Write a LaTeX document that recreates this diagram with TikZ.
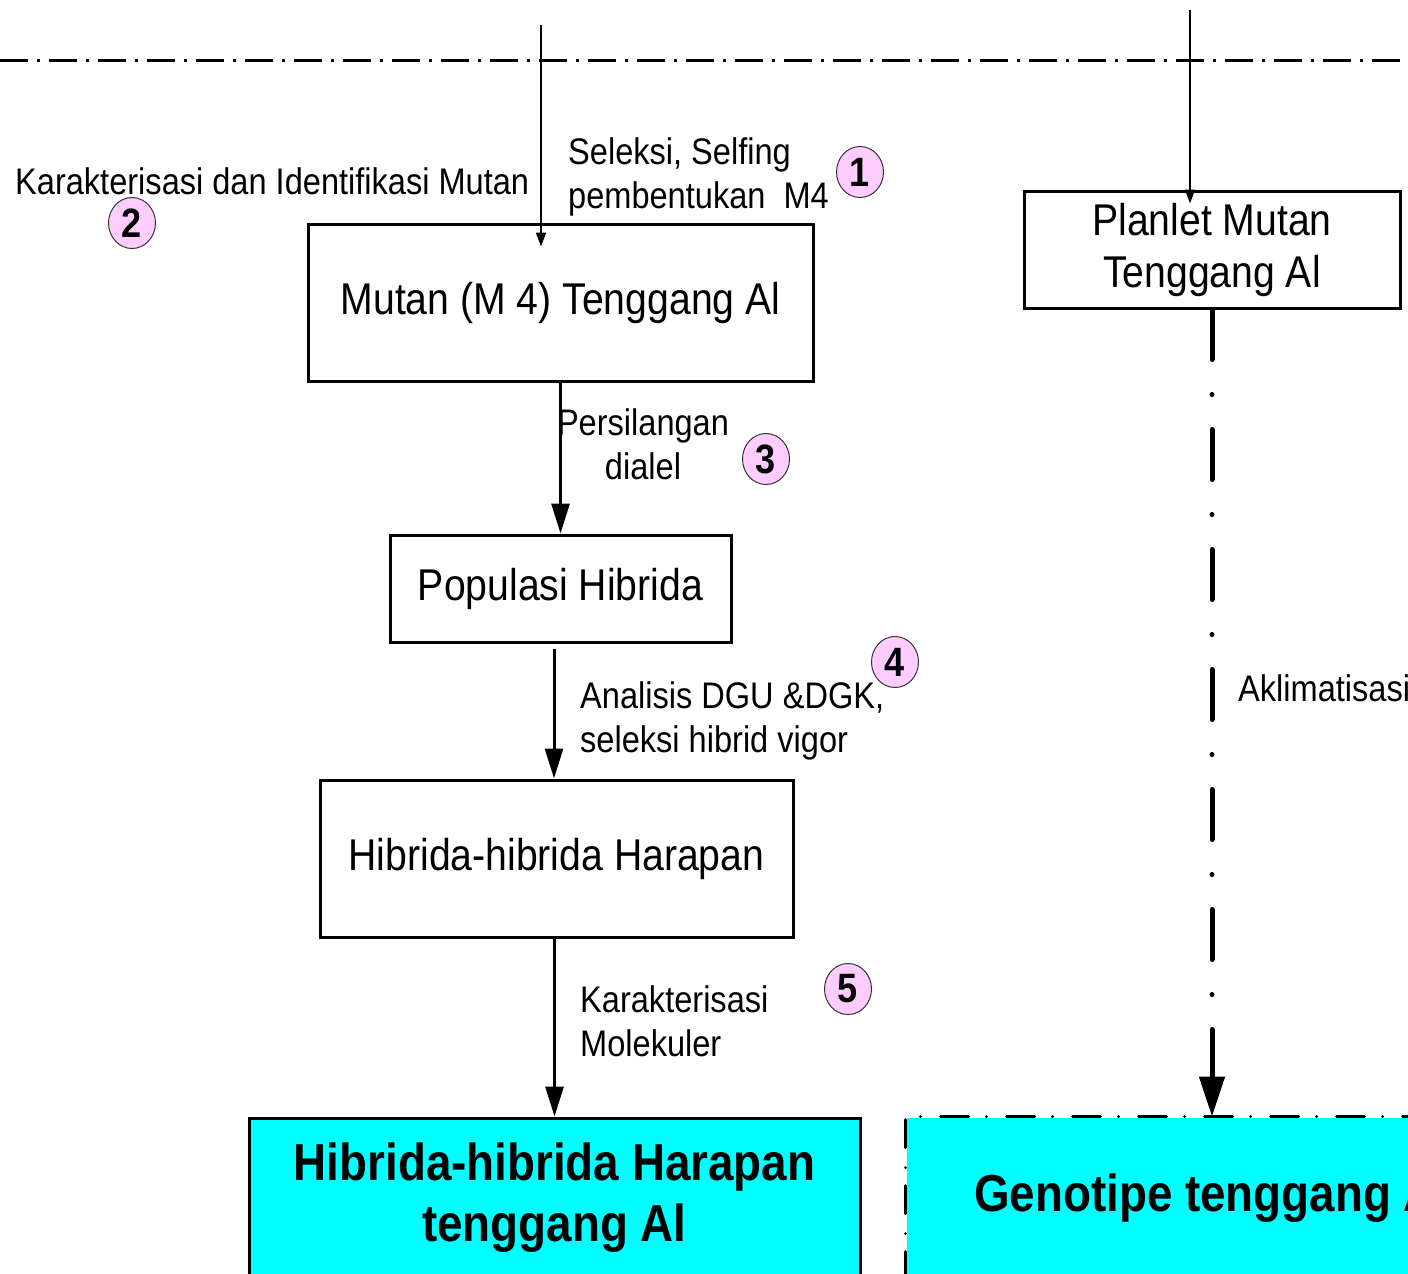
\documentclass[tikz,border=0pt]{standalone}
\usepackage{fontspec}
\setmainfont[FakeStretch=0.88]{Liberation Sans}
\usetikzlibrary{arrows.meta,shapes.geometric}
\definecolor{pinkc}{HTML}{FFCCFF}
\definecolor{cyanc}{HTML}{00FFFF}
\tikzset{
  box/.style={draw=black, line width=3pt, inner sep=0pt, align=center,
    font=\fontsize{44.5}{52}\selectfont},
  resbox/.style={box, fill=cyanc, font=\fontsize{52}{61}\selectfont\bfseries},
  lbl/.style={inner sep=0pt, font=\fontsize{37}{44}\selectfont},
  num/.style={ellipse, draw=black!80, line width=1pt, fill=pinkc, inner sep=0pt,
    minimum width=47pt, minimum height=51pt, font=\fontsize{41}{44}\selectfont\bfseries},
  thinarr/.style={line width=1.8pt, -{Triangle[width=10pt,length=14pt]}},
  thickarr/.style={line width=3pt, -{Triangle[width=18pt,length=30pt]}},
  dashdotA/.style={line width=3pt, dash pattern=on 28pt off 9pt on 3pt off 9pt},
  dashdotB/.style={line width=5pt, line cap=round, dash pattern=on 50pt off 35pt on 0pt off 35pt},
  dashdotC/.style={line width=3pt, line cap=round, dash pattern=on 28pt off 18pt on 0pt off 20pt},
}
\begin{document}
\begin{tikzpicture}[x=1pt,y=-1pt]
\useasboundingbox (0,0) rectangle (1408,1274);
\clip (0,0) rectangle (1408,1274);
% top separator
\coordinate (sepL) at (0,60);
\coordinate (sepR) at (1408,60);
\draw[dashdotA] (sepL) -- (sepR);
% boxes
\node[box, minimum width=505pt, minimum height=157pt] (b1) at (560.5,302.5) {Mutan (M 4) Tenggang Al};
\node[box, minimum width=341pt, minimum height=107pt] (b2) at (560.5,588.5) {Populasi Hibrida};
\node[box, minimum width=473pt, minimum height=157pt] (b3) at (556.5,858.5) {Hibrida-hibrida Harapan};
\node[resbox, minimum width=611pt, minimum height=160pt] (b4) at (554.5,1198) {Hibrida-hibrida Harapan\\tenggang Al};
\node[box, minimum width=376pt, minimum height=117pt] (b6) at (1212,249.5) {Planlet Mutan\\Tenggang Al};
\node[resbox, draw=none, minimum width=610pt, minimum height=160pt] (b5) at (1212,1198) {Genotipe tenggang Al};
\draw[dashdotC] (b5.south west) -- (b5.north west) -- (b5.north east);
% connectors
\coordinate (t1) at (541,25);
\draw[thinarr] (t1) -- ([yshift=-24pt]t1 |- b1.north);
\coordinate (t2) at (1190,10);
\draw[thinarr] (t2) -- ([yshift=-14pt]t2 |- b6.north);
\draw[thickarr] (b1.south) -- (b2.north);
\draw[thickarr] ([xshift=-6.5pt,yshift=-5pt]b2.south) -- ([xshift=-6.5pt]b2.south |- b3.north);
\draw[thickarr] (b3.south -| b4.north) -- (b4.north);
\draw[dashdotB, -{Triangle[width=25pt,length=40pt]}] (b6.south) -- (b5.north);
% labels
\node[lbl, anchor=west, align=left] (l1) at (568,177) {Seleksi, Selfing\\pembentukan\ \ M4};
\node[lbl, anchor=west] (l2) at (15,181) {Karakterisasi dan Identifikasi Mutan};
\node[lbl, align=center] (l3) at (643,444) {Persilangan\\dialel};
\node[lbl, anchor=west, align=left] (l4) at (580,721) {Analisis DGU \&DGK,\\seleksi hibrid vigor};
\node[lbl, anchor=west, align=left] (l5) at (580,1021) {Karakterisasi\\Molekuler};
\node[lbl, anchor=west] (l6) at (1238,688) {Aklimatisasi};
% numbers
\node[num] (n1) at (860,172) {1};
\node[num] (n2) at (132,223) {2};
\node[num] (n3) at (766,459) {3};
\node[num] (n4) at (895,662) {4};
\node[num] (n5) at (848,989) {5};
\end{tikzpicture}
\end{document}
